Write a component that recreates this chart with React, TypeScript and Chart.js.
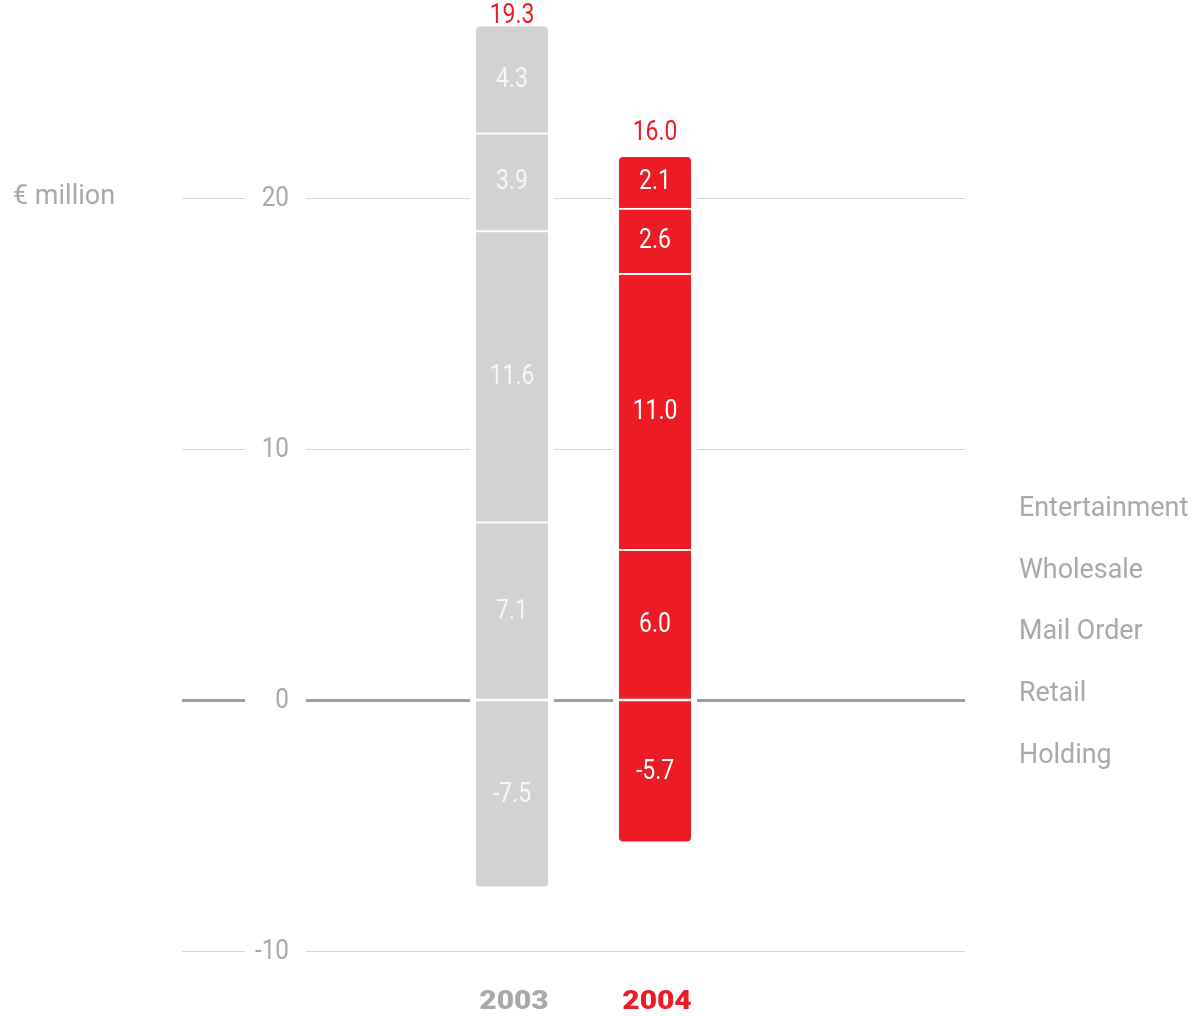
import React, { useEffect, useRef } from "react";
import { Chart, registerables } from "chart.js";

Chart.register(...registerables);

const categories = ["2003", "2004"];
const holding = [-7.5, -5.7];
const retail = [7.1, 6.0];
const mailOrder = [11.6, 11.0];
const wholesale = [3.9, 2.6];
const entertainment = [4.3, 2.1];
const totals = ["19.3", "16.0"];
const yTicks = [-10, 0, 10, 20];
const tickLabels = ["-10", "0", "10", "20"];
const legendLabels = ["Entertainment", "Wholesale", "Mail Order", "Retail", "Holding"];
const unitLabel = "€ million";

const GRAY = "#d1d2d4";
const GRAY_TEXT = "#a7a9ac";
const RED = "#ed1c24";
const ZERO = "#9d9ea0";
const FONT = "Roboto, 'Liberation Sans', sans-serif";

const barColors = [GRAY, RED];

function drawText(
  ctx: CanvasRenderingContext2D,
  text: string,
  x: number,
  y: number,
  font: string,
  align: CanvasTextAlign,
  baseline: CanvasTextBaseline,
  sx: number,
  color: string
) {
  ctx.save();
  ctx.translate(x, y);
  ctx.scale(sx, 1);
  ctx.font = font;
  ctx.textAlign = align;
  ctx.textBaseline = baseline;
  ctx.fillStyle = color;
  ctx.fillText(text, 0, 0);
  ctx.restore();
}

const overlayPlugin = {
  id: "overlay",
  beforeDatasetsDraw(chart: any) {
    const ctx = chart.ctx;
    const ys = chart.scales.y;
    const meta = chart.getDatasetMeta(0);
    const bars = meta.data.map((el: any, i: number) => {
      let top = Infinity;
      let bottom = -Infinity;
      chart.data.datasets.forEach((_: any, di: number) => {
        const e = chart.getDatasetMeta(di).data[i];
        top = Math.min(top, e.y, e.base);
        bottom = Math.max(bottom, e.y, e.base);
      });
      return { l: el.x - el.width / 2, r: el.x + el.width / 2, top, bottom };
    });
    const pad = 6;
    ctx.save();
    yTicks.forEach((t, i) => {
      const py = Math.round(ys.getPixelForValue(t)) + 0.5;
      const cuts: number[][] = [[245, 306]];
      bars.forEach((b: any) => {
        if (py >= b.top - 8 && py <= b.bottom + 8) cuts.push([b.l - pad, b.r + pad]);
      });
      cuts.sort((a, b) => a[0] - b[0]);
      const segs: number[][] = [];
      let start = 182;
      cuts.forEach(([a, b]) => {
        segs.push([start, a]);
        start = b;
      });
      segs.push([start, 965]);
      ctx.strokeStyle = t === 0 ? ZERO : "#d6d7d9";
      ctx.lineWidth = t === 0 ? 3 : 1.2;
      segs.forEach(([a, b]) => {
        ctx.beginPath();
        ctx.moveTo(a, py);
        ctx.lineTo(b, py);
        ctx.stroke();
      });
      drawText(ctx, tickLabels[i], 289, py + 1, `27px ${FONT}`, "right", "middle", 0.9, GRAY_TEXT);
    });
    drawText(ctx, unitLabel, 13, 197, `27px ${FONT}`, "left", "middle", 1.0, GRAY_TEXT);
    ctx.restore();
  },
  afterDatasetsDraw(chart: any) {
    const ctx = chart.ctx;
    const ys = chart.scales.y;
    const y0 = ys.getPixelForValue(0);
    ctx.save();
    const meta0 = chart.getDatasetMeta(0);
    meta0.data.forEach((el: any) => {
      ctx.strokeStyle = "#ffffff";
      ctx.lineWidth = 2.5;
      ctx.beginPath();
      ctx.moveTo(el.x - el.width / 2 - 6, y0);
      ctx.lineTo(el.x + el.width / 2 + 6, y0);
      ctx.stroke();
    });
    chart.data.datasets.forEach((ds: any, di: number) => {
      const meta = chart.getDatasetMeta(di);
      meta.data.forEach((el: any, i: number) => {
        const v = ds.data[i];
        drawText(
          ctx,
          v.toFixed(1),
          el.x,
          (el.y + el.base) / 2 + 1,
          `27px ${FONT}`,
          "center",
          "middle",
          0.85,
          i === 0 ? "#f7f7f7" : "#ffffff"
        );
      });
    });
    const topMeta = chart.getDatasetMeta(chart.data.datasets.length - 1);
    topMeta.data.forEach((el: any, i: number) => {
      const baseline = Math.max(el.y - 15, 23);
      drawText(ctx, totals[i], el.x, baseline, `27px ${FONT}`, "center", "alphabetic", 0.85, RED);
    });
    meta0.data.forEach((el: any, i: number) => {
      drawText(ctx, categories[i], el.x + 2, 1002, `900 26px ${FONT}`, "center", "middle", 1.15, i === 0 ? GRAY_TEXT : RED);
    });
    legendLabels.forEach((lab, i) => {
      drawText(ctx, lab, 1019, 509 + i * 61.7, `28px ${FONT}`, "left", "middle", 0.96, GRAY_TEXT);
    });
    ctx.restore();
  },
};

export default function App() {
  const ref = useRef<HTMLCanvasElement>(null);
  useEffect(() => {
    if (!ref.current) return;
    const mk = (label: string, data: number[]) => ({
      label,
      data,
      backgroundColor: barColors,
      borderColor: "#ffffff",
      borderWidth: { top: 2, bottom: 2, left: 0, right: 0 },
      borderRadius: 6,
      barThickness: 72,
    });
    const chart = new Chart(ref.current, {
      type: "bar",
      data: {
        labels: categories,
        datasets: [
          mk("Holding", holding),
          mk("Retail", retail),
          mk("Mail Order", mailOrder),
          mk("Wholesale", wholesale),
          mk("Entertainment", entertainment),
        ],
      },
      options: {
        animation: false,
        responsive: false,
        devicePixelRatio: 1,
        layout: { padding: { left: 440.5, right: 473.5, top: 22.3, bottom: 14.8 } },
        plugins: { legend: { display: false }, tooltip: { enabled: false } },
        scales: {
          x: { display: false, stacked: true, grid: { display: false } },
          y: { display: false, stacked: true, min: -12, max: 27, grid: { display: false } },
        },
      },
      plugins: [overlayPlugin],
    });
    return () => chart.destroy();
  }, []);
  return (
    <div style={{ position: "absolute", left: 0, top: 0, width: 1200, height: 1016, background: "#fff" }}>
      <canvas ref={ref} width={1200} height={1016} style={{ display: "block" }} />
    </div>
  );
}
